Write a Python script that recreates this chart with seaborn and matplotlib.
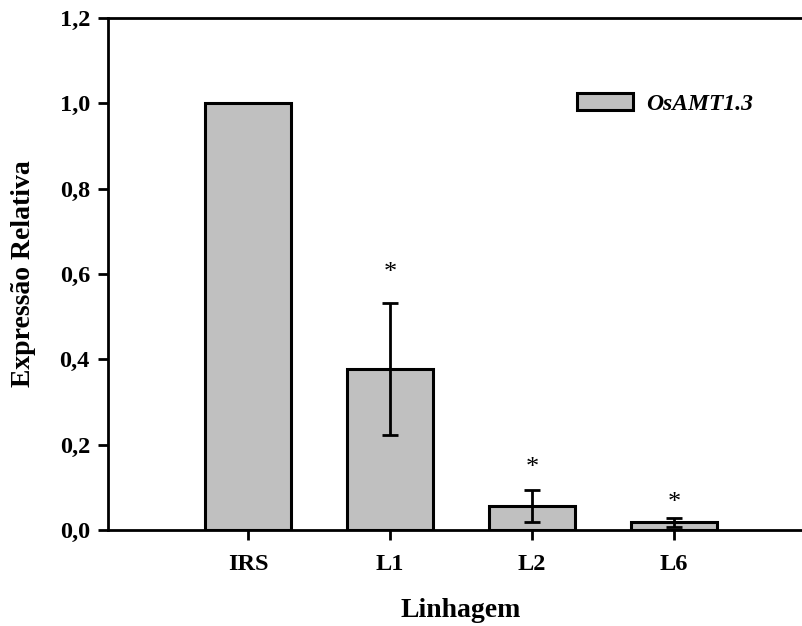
import matplotlib
matplotlib.use("Agg")
import matplotlib.pyplot as plt
import seaborn as sns
import pandas as pd

# Data
linhagens = ["IRS", "L1", "L2", "L6"]
expressao = [1.0, 0.377, 0.056, 0.018]
erro = [0.0, 0.155, 0.038, 0.011]
asterisco_y = [None, 0.603, 0.146, 0.064]
gene = "OsAMT1.3"
yticks = [0.0, 0.2, 0.4, 0.6, 0.8, 1.0, 1.2]
ytick_labels = ["0,0", "0,2", "0,4", "0,6", "0,8", "1,0", "1,2"]

sns.set_theme(style="white")
plt.rcParams["font.family"] = ["Liberation Serif", "DejaVu Serif"]
plt.rcParams["text.color"] = "black"
plt.rcParams["axes.labelcolor"] = "black"
plt.rcParams["xtick.color"] = "black"
plt.rcParams["ytick.color"] = "black"

df = pd.DataFrame({"Linhagem": linhagens, "Expressao": expressao, "gene": [gene] * len(linhagens)})

fig = plt.figure(figsize=(8.03, 6.26), dpi=100)
ax = fig.add_axes([108 / 803, 96 / 626, 1 - 108 / 803, (530 - 18) / 626])

sns.barplot(data=df, x="Linhagem", y="Expressao", hue="gene", palette=["#C0C0C0"],
            edgecolor="black", linewidth=2.2, width=0.6, dodge=False, ax=ax, errorbar=None)

xs = list(range(len(linhagens)))
ex = [x for x, e in zip(xs, erro) if e > 0]
ey = [v for v, e in zip(expressao, erro) if e > 0]
ee = [e for e in erro if e > 0]
ax.errorbar(ex, ey, yerr=ee, fmt="none", ecolor="black", elinewidth=2, capsize=5.8, capthick=2, zorder=5)

for x, y in zip(xs, asterisco_y):
    if y is not None:
        ax.text(x, y, "*", ha="center", va="center", fontsize=19, color="black")

ax.set_ylim(0, 1.2)
ax.set_xlim(-0.986, (803 - 248) / 142)
ax.set_yticks(yticks)
ax.set_yticklabels(ytick_labels, fontsize=17.5, fontweight="bold")
ax.set_xticks(xs)
ax.set_xticklabels(linhagens, fontsize=17.5, fontweight="bold")

for s in ["left", "top", "bottom"]:
    ax.spines[s].set_visible(True)
    ax.spines[s].set_color("black")
    ax.spines[s].set_linewidth(2)
ax.spines["right"].set_visible(False)

ax.tick_params(axis="y", direction="out", length=7, width=2, pad=6, left=True, colors="black")
ax.tick_params(axis="x", direction="out", length=7, width=2, pad=10, bottom=True, colors="black")

ax.set_ylabel("Expressão Relativa", fontsize=20, fontweight="bold", color="black")
ax.set_xlabel("Linhagem", fontsize=20, fontweight="bold", color="black")
ax.yaxis.set_label_coords((36 - 108) / 695, 0.5)
ax.xaxis.set_label_coords((461 - 108) / 695, (530 - 598) / 512)

leg = ax.legend(loc="center left", bbox_to_anchor=(577 / 803, 1 - 104 / 626),
                bbox_transform=fig.transFigure, frameon=False, borderpad=0, borderaxespad=0,
                handlelength=2.37, handleheight=0.72, handletextpad=0.55,
                prop={"family": "Liberation Serif", "style": "italic", "weight": "bold", "size": 17})
for t in leg.get_texts():
    t.set_color("black")

fig.savefig("out.png", dpi=100)
